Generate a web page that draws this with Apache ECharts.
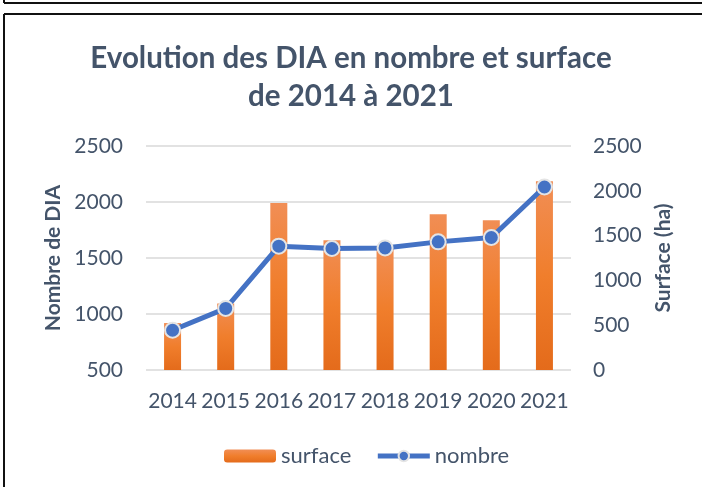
<!DOCTYPE html>
<html>
<head>
<meta charset="utf-8">
<script src="https://cdn.jsdelivr.net/npm/echarts@6/dist/echarts.min.js"></script>
<style>
  html, body { margin: 0; padding: 0; background: #fff; }
  #main { width: 702px; height: 487px; }
</style>
</head>
<body>
<div id="main"></div>
<script>
"use strict";
// données
const years = ['2014', '2015', '2016', '2017', '2018', '2019', '2020', '2021'];
const surface = [524, 743, 1865, 1449, 1370, 1739, 1672, 2107]; // ha, axe de droite
const nombre = [855, 1050, 1606, 1585, 1590, 1644, 1683, 2134];  // DIA, axe de gauche

const textColor = '#44546A';
const font = 'Lato';

const chart = echarts.init(document.getElementById('main'), null, { renderer: 'canvas' });

// pas de séparateur de milliers
function plain(v) {
  return String(v);
}

let option = {
  backgroundColor: '#fff',
  animation: false,
  title: {
    text: 'Evolution des DIA en nombre et surface\nde 2014 à 2021',
    left: 'center',
    top: 34,
    textStyle: {
      fontFamily: font,
      fontSize: 29.5,
      fontWeight: 'bold',
      color: textColor,
      lineHeight: 38
    }
  },
  graphic: [
    // cadres
    { type: 'line', shape: { x1: 4, y1: 3, x2: 702, y2: 3 }, style: { stroke: '#111', lineWidth: 2 } },
    { type: 'line', shape: { x1: 4, y1: 0, x2: 4, y2: 3 }, style: { stroke: '#111', lineWidth: 2 } },
    { type: 'line', shape: { x1: 4, y1: 14, x2: 702, y2: 14 }, style: { stroke: '#111', lineWidth: 2 } },
    { type: 'line', shape: { x1: 4, y1: 14, x2: 4, y2: 487 }, style: { stroke: '#111', lineWidth: 2 } }
  ],
  legend: {
    data: ['surface', 'nombre'],
    bottom: 15,
    left: 219,
    itemWidth: 52,
    itemHeight: 13,
    itemGap: 24,
    lineStyle: { width: 5 },
    textStyle: { fontFamily: font, fontSize: 22, color: textColor }
  },
  grid: {
    left: 146,
    right: 131,
    top: 146,
    bottom: 117
  },
  xAxis: {
    type: 'category',
    data: years,
    axisLine: { show: false },
    axisTick: { show: false },
    axisLabel: { fontFamily: font, fontSize: 21, color: textColor, margin: 21, interval: 0 }
  },
  yAxis: [
    {
      type: 'value',
      min: 500,
      max: 2500,
      interval: 500,
      name: 'Nombre de DIA',
      nameLocation: 'middle',
      nameGap: 75,
      nameTextStyle: { fontFamily: font, fontSize: 21, fontWeight: 'bold', color: textColor },
      axisLine: { show: false },
      axisTick: { show: false },
      axisLabel: { fontFamily: font, fontSize: 21, color: textColor, margin: 23, formatter: plain },
      splitLine: { lineStyle: { color: '#D9D9D9', width: 1.5 } }
    },
    {
      type: 'value',
      min: 0,
      max: 2500,
      interval: 500,
      name: 'Surface (ha)',
      nameLocation: 'middle',
      nameGap: 82,
      nameTextStyle: { fontFamily: font, fontSize: 21, fontWeight: 'bold', color: textColor },
      axisLine: { show: false },
      axisTick: { show: false },
      axisLabel: { fontFamily: font, fontSize: 21, color: textColor, margin: 22, formatter: plain },
      splitLine: { show: false }
    }
  ],
  series: [
    {
      name: 'surface',
      type: 'bar',
      yAxisIndex: 1,
      data: surface,
      barWidth: '32%',
      itemStyle: {
        color: new echarts.graphic.LinearGradient(0, 0, 0, 1, [
          { offset: 0, color: '#F18E55' },
          { offset: 0.5, color: '#F07E2C' },
          { offset: 1, color: '#E46B1B' }
        ])
      }
    },
    {
      name: 'nombre',
      type: 'line',
      yAxisIndex: 0,
      data: nombre,
      symbol: 'circle',
      symbolSize: 15,
      lineStyle: { color: '#4472C4', width: 5 },
      itemStyle: { color: '#4472C4', borderColor: '#E4E4E4', borderWidth: 2 }
    }
  ]
};

chart.setOption(option);
</script>
</body>
</html>
